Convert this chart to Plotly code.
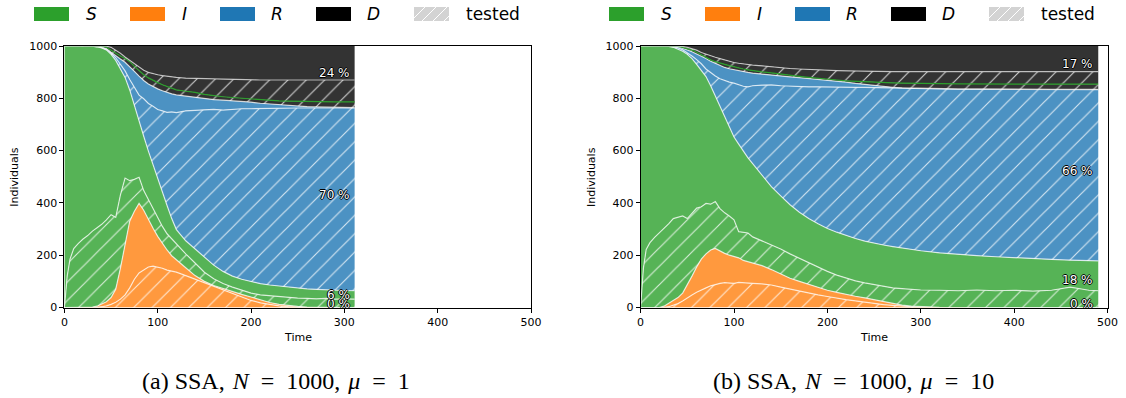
import plotly.graph_objects as go

W, H = 1126, 398
N = 1000

# ---------------- panel (a): mu = 1 ----------------
t_a = [0, 3, 6, 10, 15, 20, 25, 30, 35, 40, 45, 50, 55, 60, 65, 70, 75, 80, 85, 90, 95, 100,
       105, 110, 115, 120, 130, 140, 150, 160, 170, 180, 190, 200, 210, 220, 230, 240, 250,
       260, 270, 280, 290, 300, 311]
# cumulative boundaries
a_I_tested = [0, 0, 0, 0, 0, 0, 0, 0, 1, 3, 6, 12, 20, 32, 48, 75, 108, 132, 145, 155, 158, 154,
              150, 143, 140, 135, 122, 108, 95, 82, 68, 52, 38, 27, 18, 11, 6, 3, 1, 0, 0, 0, 0, 0, 0]
a_I_total = [0, 0, 0, 0, 0, 0, 0, 2, 5, 12, 22, 38, 70, 150, 245, 330, 368, 398, 372, 335, 303, 272,
             245, 220, 198, 182, 152, 122, 100, 84, 72, 61, 50, 40, 29, 19, 12, 7, 4, 2, 1, 0, 0, 0, 0]
a_S_tested = [0, 120, 185, 225, 245, 262, 275, 292, 305, 318, 335, 355, 345, 430, 495, 485, 490, 498,
              447, 412, 378, 342, 310, 282, 262, 245, 205, 170, 135, 110, 92, 78, 65, 55, 48, 45,
              40, 38, 36, 35, 33, 35, 32, 33, 32]
a_S_total = [1000, 1000, 1000, 1000, 1000, 1000, 1000, 999, 997, 993, 985, 968, 945, 915, 880, 832,
             770, 715, 655, 598, 545, 490, 445, 390, 340, 298, 255, 225, 195, 162, 138, 120, 108,
             99, 91, 86, 82, 78, 74, 71, 69, 67, 66, 65, 64]
a_R_tested = [1000, 1000, 1000, 1000, 1000, 1000, 1000, 999, 997, 994, 987, 973, 955, 932, 905, 872,
              840, 812, 798, 780, 770, 757, 752, 746, 748, 745, 752, 754, 757, 758, 755, 758, 760,
              760, 761, 762, 762, 763, 763, 763, 763, 763, 763, 763, 763]
a_R_total = [1000, 1000, 1000, 1000, 1000, 1000, 1000, 1000, 999, 996, 990, 976, 962, 950, 938, 922,
             903, 885, 868, 855, 845, 836, 829, 822, 817, 813, 808, 803, 798, 795, 793, 791, 788,
             785, 781, 778, 775, 772, 770, 768, 767, 766, 765, 764, 764]
a_green = [1000, 1000, 1000, 1000, 1000, 1000, 1000, 1000, 1000, 1000, 995, 983, 972, 962, 952, 940,
           922, 905, 890, 878, 868, 860, 852, 845, 838, 832, 827, 823, 815, 810, 806, 803, 800,
           797, 794, 792, 790, 789, 788, 787, 787, 786, 786, 786, 786]
a_D_tested = [1000, 1000, 1000, 1000, 1000, 1000, 1000, 1000, 1000, 1000, 999, 995, 985, 972, 958,
              945, 930, 918, 907, 899, 894, 890, 887, 884, 882, 880, 877, 876, 874, 873, 873, 872,
              872, 871, 870, 870, 870, 870, 870, 870, 870, 870, 870, 870, 870]

# ---------------- panel (b): mu = 10 ----------------
t_b = [0, 3, 6, 10, 15, 20, 25, 30, 35, 40, 45, 50, 55, 60, 65, 70, 75, 80, 85, 90, 95, 100,
       105, 110, 115, 120, 130, 140, 150, 160, 170, 180, 190, 200, 210, 220, 230, 240, 250,
       260, 270, 280, 290, 300, 320, 340, 360, 380, 400, 420, 440, 460, 480, 490]
b_I_tested = [0, 0, 0, 0, 0, 0, 1, 3, 8, 15, 25, 38, 48, 58, 65, 75, 83, 88, 92, 95, 93, 92, 96, 94,
              92, 92, 90, 86, 78, 70, 62, 55, 48, 42, 35, 30, 25, 20, 15, 11, 8, 5, 3, 2,
              1, 0, 0, 0, 0, 0, 0, 0, 0, 0]
b_I_total = [0, 0, 0, 0, 0, 0, 5, 15, 25, 38, 55, 85, 120, 155, 185, 205, 220, 226, 215, 207, 200,
             195, 190, 180, 175, 170, 160, 145, 128, 112, 100, 88, 75, 66, 58, 50, 43, 37, 30, 22,
             15, 9, 5, 3, 1, 0, 0, 0, 0, 0, 0, 0, 0, 0]
b_S_tested = [0, 150, 222, 248, 268, 285, 300, 320, 340, 345, 350, 340, 362, 380, 385, 398, 395, 405,
              378, 362, 350, 335, 290, 288, 285, 270, 255, 240, 224, 205, 188, 170, 152, 138, 124,
              112, 102, 94, 87, 82, 75, 72, 70, 67, 66, 64, 67, 64, 66, 63, 66, 78, 66, 64]
b_S_total = [1000, 1000, 1000, 1000, 1000, 1000, 1000, 998, 995, 989, 980, 968, 952, 930, 908, 883,
             848, 808, 770, 727, 688, 652, 625, 598, 572, 550, 505, 462, 427, 393, 364, 340, 320,
             302, 288, 275, 264, 254, 246, 239, 233, 227, 222, 217, 209, 203, 198, 194, 190, 187,
             184, 181, 179, 178]
b_R_tested = [1000, 1000, 1000, 1000, 1000, 1000, 1000, 999, 997, 993, 986, 975, 962, 948, 932, 912,
              898, 885, 875, 868, 862, 858, 852, 846, 844, 848, 850, 851, 848, 846, 845, 844, 844,
              843, 844, 843, 842, 842, 841, 840, 839, 838, 838, 837, 836, 835, 835, 834, 834, 834,
              833, 833, 833, 833]
b_R_total = [1000, 1000, 1000, 1000, 1000, 1000, 1000, 1000, 999, 997, 992, 985, 978, 970, 962, 952,
             942, 933, 925, 918, 913, 909, 905, 902, 899, 896, 892, 888, 885, 882, 879, 876, 873,
             870, 866, 862, 857, 853, 849, 845, 842, 840, 839, 838, 837, 836, 836, 835, 835, 835,
             834, 834, 834, 834]
b_green = [1000, 1000, 1000, 1000, 1000, 1000, 1000, 1000, 999, 998, 995, 990, 984, 976, 966, 956,
           947, 940, 936, 930, 925, 920, 916, 912, 909, 906, 901, 897, 892, 888, 884, 880, 876,
           873, 870, 867, 865, 863, 861, 860, 859, 858, 857, 856, 856, 855, 855, 855, 855, 854,
           854, 854, 854, 854]
b_D_tested = [1000, 1000, 1000, 1000, 1000, 1000, 1000, 1000, 1000, 999, 998, 995, 990, 984, 975,
              968, 962, 957, 952, 946, 940, 937, 934, 931, 928, 927, 924, 920, 917, 914, 912, 910,
              908, 907, 906, 905, 904, 903, 902, 902, 902, 902, 902, 902, 902, 902, 902, 902, 902,
              902, 902, 902, 902, 902]

x_ticks = [0, 100, 200, 300, 400, 500]
y_ticks = [0, 200, 400, 600, 800, 1000]
legend_names = ["S", "I", "R", "D", "tested"]
SP = "\u2004"   # slightly wider space, closer to LaTeX spacing
EQ = "\u2002=\u2002"
captions = [f"(a) SSA,{SP}<i>N</i>{EQ}1000,{SP}<i>μ</i>{EQ}1",
            f"(b) SSA,{SP}<i>N</i>{EQ}1000,{SP}<i>μ</i>{EQ}10"]

# ---------------- style ----------------
C_S, C_I, C_R, C_D = "#56b356", "#ff993e", "#4c92c3", "#333333"
EDGE = "rgba(255,255,255,0.72)"
FONT = "DejaVu Sans"

fig = go.Figure()


def add_panel(t, layers, green, xa, ya):
    I_t, I_tot, S_t, S_tot, R_t, R_tot, D_t = layers
    spec = [
        (I_t, C_I, True, EDGE),
        (I_tot, C_I, False, EDGE),
        (S_t, C_S, True, EDGE),
        (S_tot, C_S, False, EDGE),
        (R_t, C_R, True, EDGE),
        (R_tot, C_R, False, EDGE),
        (green, C_D, True, "#2ca02c"),
        (D_t, C_D, True, "rgba(255,255,255,0.62)"),
        ([N] * len(t), C_D, False, None),
    ]
    for i, (y, col, hatched, lc) in enumerate(spec):
        kw = dict(x=t, y=y, mode="lines", xaxis=xa, yaxis=ya, showlegend=False,
                  hoverinfo="skip", fill="tozeroy" if i == 0 else "tonexty", fillcolor=col)
        if lc is None:
            kw["line"] = dict(width=0, color=col)
        else:
            kw["line"] = dict(width=1.2, color=lc)
        if hatched:
            kw["fillpattern"] = dict(shape="/", fgcolor="white", fgopacity=0.75,
                                     bgcolor=col, size=13, solidity=0.09)
        fig.add_trace(go.Scatter(**kw))

    # percentage labels at the right end
    end = t[-1]
    vals = [I_tot[-1], S_tot[-1] - I_tot[-1], R_tot[-1] - S_tot[-1], N - R_tot[-1]]
    lows = [0, I_tot[-1], S_tot[-1], R_tot[-1]]
    for v, lo in zip(vals, lows):
        pct = round(100 * v / N)
        fig.add_annotation(x=end, y=lo + v / 2 + 15, xref=xa, yref=ya,
                           text=f"{pct} %", showarrow=False, xanchor="right", yanchor="middle",
                           xshift=-3,
                           font=dict(family=FONT, size=12, color="white",
                                     shadow="-1px 0 0 #000, 1px 0 0 #000, 0 -1px 0 #000, 0 1px 0 #000"))


add_panel(t_a, [a_I_tested, a_I_total, a_S_tested, a_S_total, a_R_tested, a_R_total, a_D_tested],
          a_green, "x", "y")
add_panel(t_b, [b_I_tested, b_I_total, b_S_tested, b_S_total, b_R_tested, b_R_total, b_D_tested],
          b_green, "x2", "y2")

ydom = [(H - 307.5) / H, (H - 46) / H]
axis_common = dict(showline=True, linecolor="black", linewidth=1, mirror=True, ticks="outside",
                   ticklen=4, tickwidth=1, tickcolor="black", showgrid=False, zeroline=False,
                   automargin=False,
                   tickfont=dict(family=FONT, size=11, color="black"))
fig.update_layout(
    width=W, height=H, margin=dict(l=0, r=0, t=0, b=0, pad=0, autoexpand=False),
    paper_bgcolor="white", plot_bgcolor="white", showlegend=False,
    xaxis=dict(domain=[64.4 / W, 531 / W], range=[0, 500], tickvals=x_ticks, anchor="y", **axis_common),
    yaxis=dict(domain=ydom, range=[0, 1000], tickvals=y_ticks, anchor="x", **axis_common),
    xaxis2=dict(domain=[640.6 / W, 1107.6 / W], range=[0, 500], tickvals=x_ticks, anchor="y2", **axis_common),
    yaxis2=dict(domain=ydom, range=[0, 1000], tickvals=y_ticks, anchor="x2", **axis_common),
)

# axis titles & captions
for ox, cap, cx in [(0, captions[0], 276), (576.2, captions[1], 853)]:
    fig.add_annotation(x=(297.7 + ox) / W, y=1 - 337 / H, xref="paper", yref="paper", text="Time",
                       showarrow=False, xanchor="center", yanchor="middle",
                       font=dict(family=FONT, size=11, color="black"))
    fig.add_annotation(x=(15 + ox) / W, y=1 - 176.7 / H, xref="paper", yref="paper", text="Individuals",
                       showarrow=False, textangle=-90, xanchor="center", yanchor="middle",
                       font=dict(family=FONT, size=11, color="black"))
    fig.add_annotation(x=cx / W, y=1 - 381 / H, xref="paper", yref="paper", text=cap,
                       showarrow=False, xanchor="center", yanchor="middle",
                       font=dict(family="Liberation Serif", size=24, color="black"))

# legends (drawn as decorations)
legend_cols = ["#2ca02c", "#ff7f0e", "#1f77b4", "#000000", "#d3d3d3"]
box_x = [34, 130, 220, 316, 414]
txt_x = [84, 180, 269, 365, 464]
shapes = []


def px(x):
    return x / W


def py(y):
    return 1 - y / H


for ox in [0, 575]:
    for name, col, bx, tx in zip(legend_names, legend_cols, box_x, txt_x):
        x0, x1, y0, y1 = bx + ox, bx + ox + 35, 7, 21
        shapes.append(dict(type="rect", xref="paper", yref="paper", x0=px(x0), x1=px(x1),
                           y0=py(y1), y1=py(y0), fillcolor=col, line=dict(width=0)))
        if name == "tested":
            hgt = y1 - y0
            a = x0 - hgt
            while a < x1:
                s0 = max(0, x0 - a)
                s1 = min(hgt, x1 - a)
                if s1 > s0:
                    shapes.append(dict(type="line", xref="paper", yref="paper",
                                       x0=px(a + s0), y0=py(y1 - s0), x1=px(a + s1), y1=py(y1 - s1),
                                       line=dict(color="white", width=1)))
                a += 11
        label = name if name == "tested" else f"<i>{name}</i>"
        fig.add_annotation(x=px(tx + ox), y=py(14), xref="paper", yref="paper", text=label,
                           showarrow=False, xanchor="left", yanchor="middle",
                           font=dict(family=FONT, size=17, color="black"))

fig.update_layout(shapes=shapes)
fig.write_html("out.html", config={"displayModeBar": False},
               post_script="document.body.style.margin='0';document.body.style.overflow='hidden';")
